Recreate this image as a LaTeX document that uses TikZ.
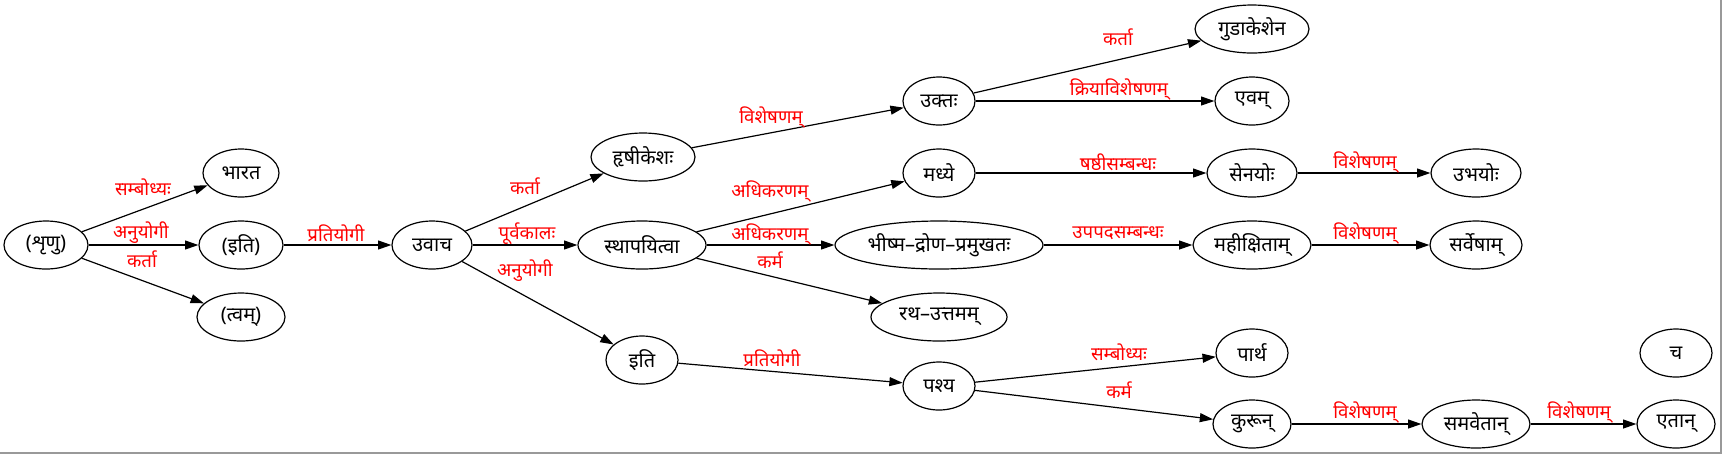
\documentclass[tikz,border=0pt]{standalone}
\usepackage{fontspec}
\newfontfamily\devafont[Script=Devanagari]{Noto Sans}
\usetikzlibrary{arrows.meta, shapes.geometric}
\tikzset{%
>={Triangle[width=6.7pt,length=10pt]},
  % Specifications for style of nodes:
            word/.style = {ellipse, draw=black, line width=0.9pt,
                            minimum height=36pt, inner sep=0pt,
                            font=\devafont\fontsize{15}{17}\selectfont},
            rel/.style = {text=red, inner sep=0pt,
                            font=\devafont\fontsize{14}{16}\selectfont},
            frame/.style = {draw=gray!80, line width=1.2pt}
}
\begin{document}
\begin{tikzpicture}[x=0.75pt, y=-0.75pt, every path/.style={line width=0.9pt}]
                        \useasboundingbox (0,0) rectangle (1723,455);
                        \draw[frame] (1721,0) -- (1721,453) -- (0,453);
                        \node[word, minimum width=63pt] (srnu) at (46,245) {(शृणु)};
                        \node[word, minimum width=57pt] (bharata) at (241,173) {भारत};
                        \node[word, minimum width=63pt] (iti) at (241,245) {(इति)};
                        \node[word, minimum width=66pt] (tvam) at (241,317) {(त्वम्)};
                        \node[word, minimum width=60pt] (uvaca) at (432,245) {उवाच};
                        \node[word, minimum width=78pt] (hrsikesa) at (643,157) {हृषीकेशः};
                        \node[word, minimum width=96pt] (sthapayitva) at (642,245) {स्थापयित्वा};
                        \node[word, minimum width=54pt] (itiB) at (642,360) {इति};
                        \node[word, minimum width=54pt] (uktah) at (939,101) {उक्तः};
                        \node[word, minimum width=54pt] (madhye) at (939,173) {मध्ये};
                        \node[word, minimum width=156pt] (bhisma) at (939,245) {भीष्म–द्रोण–प्रमुखतः};
                        \node[word, minimum width=102pt] (ratha) at (939,317) {रथ–उत्तमम्};
                        \node[word, minimum width=54pt] (pasya) at (939,386) {पश्य};
                        \node[word, minimum width=85.5pt] (gudakesa) at (1252,29) {गुडाकेशेन};
                        \node[word, minimum width=55.5pt] (evam) at (1252,101) {एवम्};
                        \node[word, minimum width=67.5pt] (senayoh) at (1252,173) {सेनयोः};
                        \node[word, minimum width=88.5pt] (mahiksitam) at (1252,245) {महीक्षिताम्};
                        \node[word, minimum width=54pt] (partha) at (1252,353) {पार्थ};
                        \node[word, minimum width=58.5pt] (kurun) at (1252,424) {कुरून्};
                        \node[word, minimum width=67.5pt] (ubhayoh) at (1476,173) {उभयोः};
                        \node[word, minimum width=69pt] (sarvesam) at (1476,245) {सर्वेषाम्};
                        \node[word, minimum width=81pt] (samavetan) at (1476,424) {समवेतान्};
                        \node[word, minimum width=54pt] (ca) at (1676,353) {च};
                        \node[word, minimum width=58.5pt] (etan) at (1676,424) {एतान्};
                        % edges
                        \draw[->] (srnu) -- (bharata);
                        \draw[->] (srnu) -- (iti);
                        \draw[->] (srnu) -- (tvam);
                        \draw[->] (iti) -- (uvaca);
                        \draw[->] (uvaca) -- (hrsikesa);
                        \draw[->] (uvaca) -- (sthapayitva);
                        \draw[->] (uvaca) -- (itiB);
                        \draw[->] (hrsikesa) -- (uktah);
                        \draw[->] (sthapayitva) -- (madhye);
                        \draw[->] (sthapayitva) -- (bhisma);
                        \draw[->] (sthapayitva) -- (ratha);
                        \draw[->] (itiB) -- (pasya);
                        \draw[->] (uktah) -- (gudakesa);
                        \draw[->] (uktah) -- (evam);
                        \draw[->] (madhye) -- (senayoh);
                        \draw[->] (bhisma) -- (mahiksitam);
                        \draw[->] (pasya) -- (partha);
                        \draw[->] (pasya) -- (kurun);
                        \draw[->] (senayoh) -- (ubhayoh);
                        \draw[->] (mahiksitam) -- (sarvesam);
                        \draw[->] (kurun) -- (samavetan);
                        \draw[->] (samavetan) -- (etan);
                        % edge labels
                        \node[rel] (l1) at (143,187) {सम्बोध्यः};
                        \node[rel] (l2) at (141,233) {अनुयोगी};
                        \node[rel] (l3) at (142,259) {कर्ता};
                        \node[rel] (l4) at (336,233) {प्रतियोगी};
                        \node[rel] (l5) at (525,186) {कर्ता};
                        \node[rel] (l6) at (527,234) {पूर्वकालः};
                        \node[rel] (l7) at (525,271) {अनुयोगी};
                        \node[rel] (l8) at (771,117) {विशेषणम्};
                        \node[rel] (l9) at (770,191) {अधिकरणम्};
                        \node[rel] (l10) at (770,234) {अधिकरणम्};
                        \node[rel] (l11) at (770,260) {कर्म};
                        \node[rel] (l12) at (772,358) {प्रतियोगी};
                        \node[rel] (l13) at (1118,37) {कर्ता};
                        \node[rel] (l14) at (1119,89) {क्रियाविशेषणम्};
                        \node[rel] (l15) at (1118,162) {षष्ठीसम्बन्धः};
                        \node[rel] (l16) at (1118,233) {उपपदसम्बन्धः};
                        \node[rel] (l17) at (1119,352) {सम्बोध्यः};
                        \node[rel] (l18) at (1119,390) {कर्म};
                        \node[rel] (l19) at (1365,162) {विशेषणम्};
                        \node[rel] (l20) at (1365,233) {विशेषणम्};
                        \node[rel] (l21) at (1365,412) {विशेषणम्};
                        \node[rel] (l22) at (1579,412) {विशेषणम्};
                    \end{tikzpicture}
\end{document}
